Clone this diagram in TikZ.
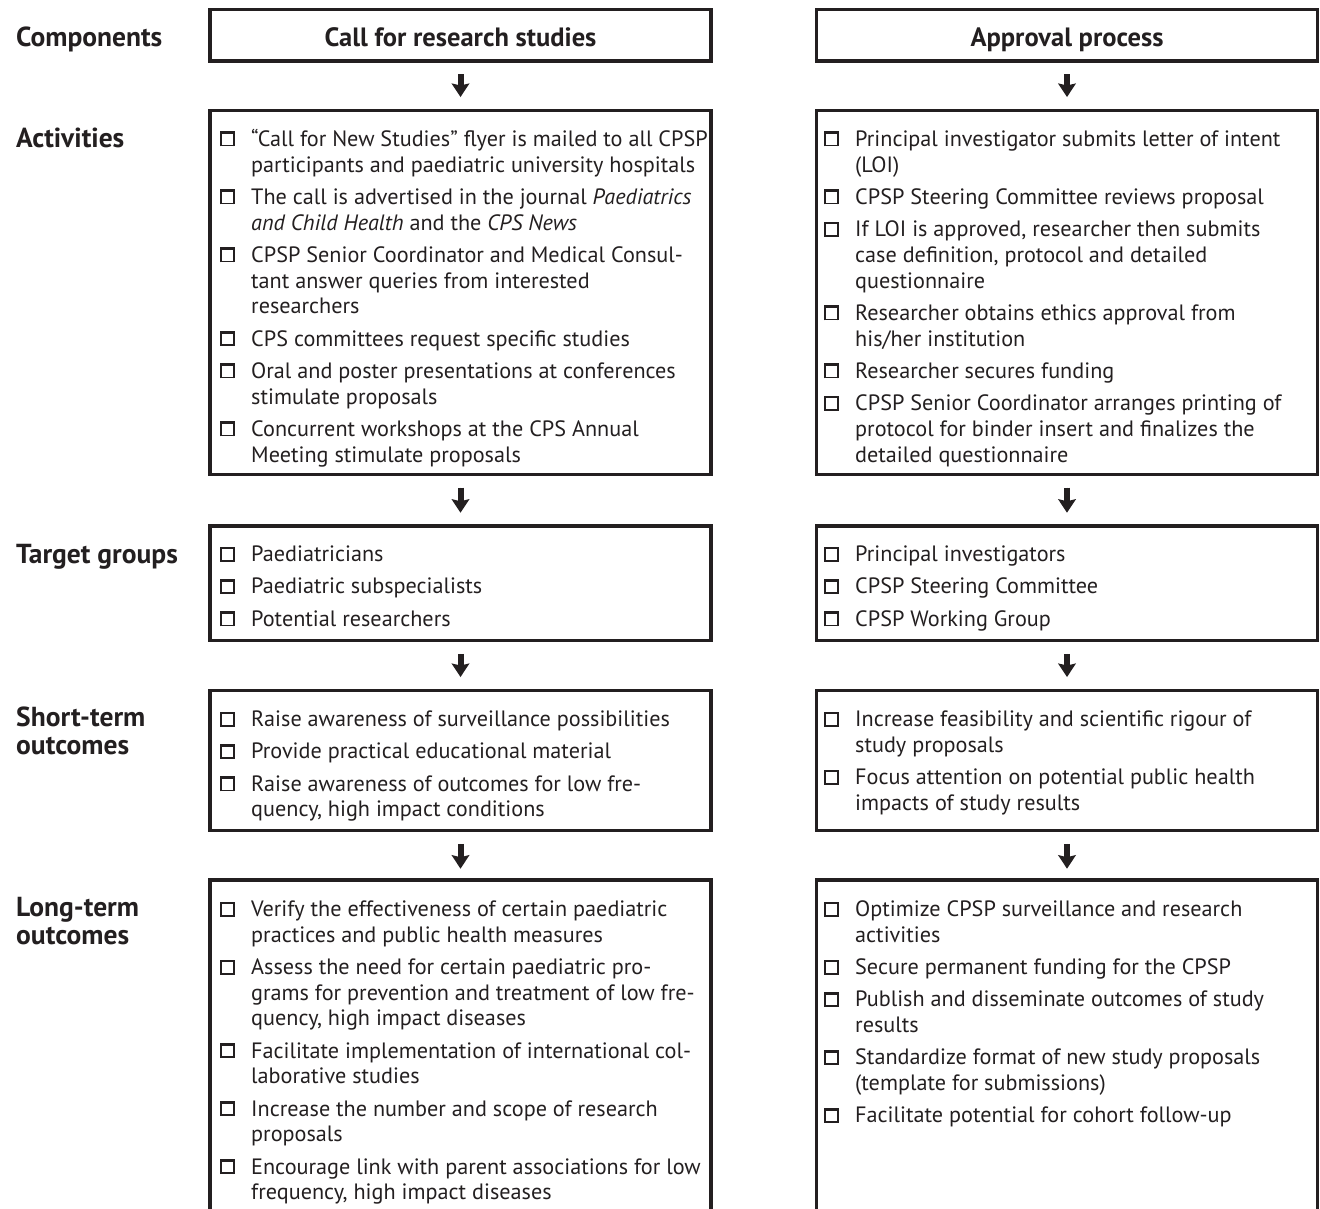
\documentclass[tikz,border=0pt]{standalone}
\usepackage{fontspec}
\setmainfont{PT Sans}
\usetikzlibrary{arrows.meta}
\definecolor{ink}{HTML}{231F20}
\newcommand\bodyfont{\fontsize{22.2}{25.6}\selectfont}
\newcommand\labfont{\fontsize{27.5}{28}\selectfont\bfseries}
\newcommand\hdrfont{\fontsize{26.5}{28}\selectfont\bfseries}
\newcommand\cbx{\hbox{\vrule width 2.6pt height 15pt\vbox to 15pt{\hrule height 2.6pt width 10.6pt\vfil\hrule height 1.8pt}\vrule width 1.8pt height 15pt}}
\newcommand\ck{\makebox[31.5pt][l]{\cbx}}
\tikzset{
  boxline/.style={draw=ink, line width=3.5pt},
  frame/.style={boxline, inner sep=0pt, minimum width=501pt},
  hdr/.style={frame, font=\hdrfont, text=ink, text height=23pt, text depth=0pt, minimum height=51.5pt},
  openframe/.style={draw=none, inner sep=0pt, outer sep=0pt, minimum width=501pt, anchor=north},
  itm/.style={anchor=base west, inner sep=0pt, font=\bodyfont, text=ink},
  lab/.style={anchor=base west, inner sep=0pt, font=\labfont, text=ink},
  flow/.style={draw=ink, fill=ink, line width=6pt, shorten <=11.5pt, shorten >=11.5pt,
    -{Stealth[length=13.5pt, width=17.5pt, inset=2pt]}}
}
\begin{document}
\begin{tikzpicture}[x=1pt,y=-1pt]
\useasboundingbox (0,0) rectangle (1320,1209);
% labels
\node[lab] (labC) at (16,46.7) {Components};
\node[lab] (labA) at (16,147.5) {Activities};
\node[lab] (labT) at (16,563) {Target groups};
\node[lab] (labS) at (16,726.7) {\begin{tabular}[t]{@{}l@{}}Short-term\\outcomes\end{tabular}};
\node[lab] (labL) at (16,916.5) {\begin{tabular}[t]{@{}l@{}}Long-term\\outcomes\end{tabular}};
% headers
\node[hdr] (hL) at (460.5,35.2) {Call for research studies};
\node[hdr] (hR) at (1067,35.2) {Approval process};
% frames
\node[frame, minimum height=364pt] (aL) at (460.5,292.3) {};
\node[frame, minimum height=364pt] (aR) at (1067,292.3) {};
\node[frame, minimum height=114.5pt] (tL) at (460.5,583.25) {};
\node[frame, minimum height=114.5pt] (tR) at (1067,583.25) {};
\node[frame, minimum height=140.2pt] (sL) at (460.5,760.4) {};
\node[frame, minimum height=140.2pt] (sR) at (1067,760.4) {};
\node[openframe, minimum height=328.8pt] (lL) at (460.5,880.2) {};
\node[openframe, minimum height=328.8pt] (lR) at (1067,880.2) {};
\draw[boxline] (lL.south west) -- (lL.north west) -- (lL.north east) -- (lL.south east);
\draw[boxline] (lR.south west) -- (lR.north west) -- (lR.north east) -- (lR.south east);
% arrows
\draw[flow] (hL) -- (aL);
\draw[flow] (hR) -- (aR);
\draw[flow] (aL) -- (tL);
\draw[flow] (aR) -- (tR);
\draw[flow] (tL) -- (sL);
\draw[flow] (tR) -- (sR);
\draw[flow] (sL) -- (lL);
\draw[flow] (sR) -- (lR);
% contents
\node[itm] (aLt) at (219.5,146.5) {\begin{tabular}[t]{@{}l@{}l@{}}
\ck & “Call for New Studies” flyer is mailed to all CPSP\\
 & participants and paediatric university hospitals\\[6.8pt]
\ck & The call is advertised in the journal \textit{Paediatrics}\\
 & \textit{and Child Health} and the \textit{CPS News}\\[6.8pt]
\ck & CPSP Senior Coordinator and Medical Consul-\\
 & tant answer queries from interested\\
 & researchers\\[6.8pt]
\ck & CPS committees request specific studies\\[6.8pt]
\ck & Oral and poster presentations at conferences\\
 & stimulate proposals\\[6.8pt]
\ck & Concurrent workshops at the CPS Annual\\
 & Meeting stimulate proposals
\end{tabular}};
\node[itm] (aRt) at (823.5,146.5) {\begin{tabular}[t]{@{}l@{}l@{}}
\ck & Principal investigator submits letter of intent\\
 & (LOI)\\[6.8pt]
\ck & CPSP Steering Committee reviews proposal\\[6.8pt]
\ck & If LOI is approved, researcher then submits\\
 & case definition, protocol and detailed\\
 & questionnaire\\[6.8pt]
\ck & Researcher obtains ethics approval from\\
 & his/her institution\\[6.8pt]
\ck & Researcher secures funding\\[6.8pt]
\ck & CPSP Senior Coordinator arranges printing of\\
 & protocol for binder insert and finalizes the\\
 & detailed questionnaire
\end{tabular}};
\node[itm] (tLt) at (219.5,561.5) {\begin{tabular}[t]{@{}l@{}l@{}}
\ck & Paediatricians\\[6.8pt]
\ck & Paediatric subspecialists\\[6.8pt]
\ck & Potential researchers
\end{tabular}};
\node[itm] (tRt) at (823.5,561.5) {\begin{tabular}[t]{@{}l@{}l@{}}
\ck & Principal investigators\\[6.8pt]
\ck & CPSP Steering Committee\\[6.8pt]
\ck & CPSP Working Group
\end{tabular}};
\node[itm] (sLt) at (219.5,726.5) {\begin{tabular}[t]{@{}l@{}l@{}}
\ck & Raise awareness of surveillance possibilities\\[6.8pt]
\ck & Provide practical educational material\\[6.8pt]
\ck & Raise awareness of outcomes for low fre-\\
 & quency, high impact conditions
\end{tabular}};
\node[itm] (sRt) at (823.5,726.5) {\begin{tabular}[t]{@{}l@{}l@{}}
\ck & Increase feasibility and scientific rigour of\\
 & study proposals\\[6.8pt]
\ck & Focus attention on potential public health\\
 & impacts of study results
\end{tabular}};
\node[itm] (lLt) at (219.5,916.5) {\begin{tabular}[t]{@{}l@{}l@{}}
\ck & Verify the effectiveness of certain paediatric\\
 & practices and public health measures\\[6.8pt]
\ck & Assess the need for certain paediatric pro-\\
 & grams for prevention and treatment of low fre-\\
 & quency, high impact diseases\\[6.8pt]
\ck & Facilitate implementation of international col-\\
 & laborative studies\\[6.8pt]
\ck & Increase the number and scope of research\\
 & proposals\\[6.8pt]
\ck & Encourage link with parent associations for low\\
 & frequency, high impact diseases
\end{tabular}};
\node[itm] (lRt) at (823.5,916.5) {\begin{tabular}[t]{@{}l@{}l@{}}
\ck & Optimize CPSP surveillance and research\\
 & activities\\[6.8pt]
\ck & Secure permanent funding for the CPSP\\[6.8pt]
\ck & Publish and disseminate outcomes of study\\
 & results\\[6.8pt]
\ck & Standardize format of new study proposals\\
 & (template for submissions)\\[6.8pt]
\ck & Facilitate potential for cohort follow-up
\end{tabular}};
\end{tikzpicture}
\end{document}
